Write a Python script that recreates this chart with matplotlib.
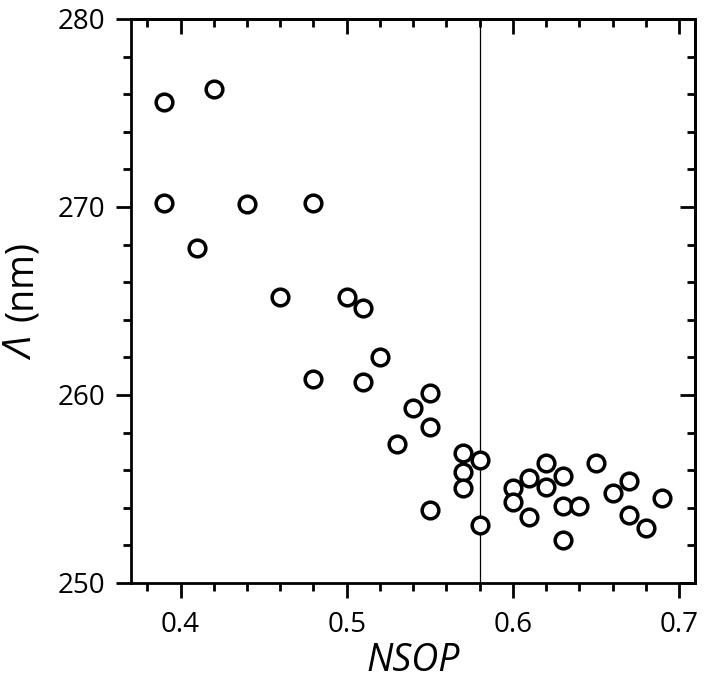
import matplotlib.pyplot as plt
from matplotlib.ticker import MultipleLocator

nsop = [0.39, 0.42, 0.39, 0.44, 0.48, 0.41, 0.46, 0.50, 0.51, 0.52,
        0.48, 0.51, 0.54, 0.55, 0.55, 0.53, 0.57, 0.58, 0.57, 0.57,
        0.55, 0.58, 0.60, 0.60, 0.61, 0.61, 0.62, 0.62, 0.63, 0.63,
        0.63, 0.64, 0.65, 0.66, 0.67, 0.67, 0.68, 0.69]
lam = [275.6, 276.3, 270.2, 270.15, 270.2, 267.8, 265.2, 265.2, 264.6, 262.0,
       260.85, 260.7, 259.3, 260.1, 258.3, 257.4, 256.9, 256.55, 255.9, 255.05,
       253.9, 253.1, 255.05, 254.3, 255.6, 253.5, 256.4, 255.1, 255.7, 254.1,
       252.3, 254.1, 256.4, 254.8, 255.4, 253.6, 252.9, 254.5]
threshold = 0.58

plt.rcParams['font.family'] = ['Open Sans', 'DejaVu Sans']

fig = plt.figure(figsize=(7.05, 6.95), dpi=100)
ax = fig.add_axes([0.1865, 0.1612, 0.7993, 0.8115])

ax.plot(nsop, lam, 'o', mfc='white', mec='black', ms=12, mew=2.5, zorder=3)
ax.axvline(threshold, color='black', lw=0.9, zorder=2)

ax.set_xlim(0.3705, 0.7096)
ax.set_ylim(250, 280)
ax.xaxis.set_major_locator(MultipleLocator(0.1))
ax.xaxis.set_minor_locator(MultipleLocator(0.02))
ax.yaxis.set_major_locator(MultipleLocator(10))
ax.yaxis.set_minor_locator(MultipleLocator(2))

for s in ax.spines.values():
    s.set_linewidth(2)

ax.tick_params(which='both', direction='out', width=2, labelsize=20)
ax.tick_params(which='major', length=11)
ax.tick_params(which='minor', length=6)
ax.tick_params(axis='x', which='major', pad=9)
ax.tick_params(axis='y', which='major', pad=8)
# inward ticks on the top and right
ax2 = ax.secondary_xaxis('top')
ax2.xaxis.set_major_locator(MultipleLocator(0.1))
ax2.xaxis.set_minor_locator(MultipleLocator(0.02))
ax2.tick_params(which='both', direction='in', width=2, labeltop=False)
ax2.tick_params(which='major', length=11)
ax2.tick_params(which='minor', length=6)
ax3 = ax.secondary_yaxis('right')
ax3.yaxis.set_major_locator(MultipleLocator(10))
ax3.yaxis.set_minor_locator(MultipleLocator(2))
ax3.tick_params(which='both', direction='in', width=2, labelright=False)
ax3.tick_params(which='major', length=11)
ax3.tick_params(which='minor', length=6)
ax2.spines['top'].set_linewidth(2)
ax3.spines['right'].set_linewidth(2)

ax.set_xlabel('NSOP', fontsize=27, style='italic', labelpad=2)
# y label: italic Lambda, upright unit
fig.text(0.033, 0.497, '\u039b', fontsize=28, style='italic', rotation=90,
         ha='center', va='center')
fig.text(0.031, 0.595, '(nm)', fontsize=27, rotation=90,
         ha='center', va='center')

fig.savefig('out.png', dpi=100)
